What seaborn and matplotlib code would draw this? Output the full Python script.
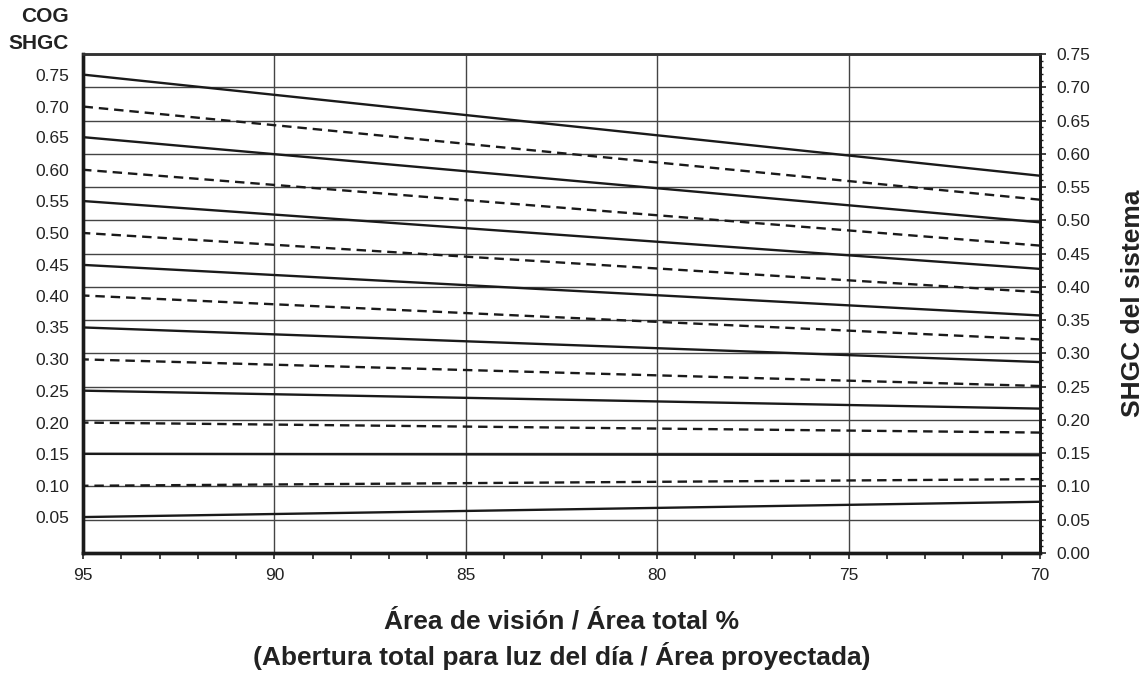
import numpy as np
import pandas as pd
import matplotlib.pyplot as plt
from matplotlib.ticker import MultipleLocator
import seaborn as sns

# Values: system SHGC at 95 % and 70 % vision area
cog_shgc = [0.05, 0.10, 0.15, 0.20, 0.25, 0.30, 0.35, 0.40,
            0.45, 0.50, 0.55, 0.60, 0.65, 0.70, 0.75]
sys_at_95 = [0.054, 0.101, 0.149, 0.196, 0.244, 0.291, 0.339, 0.387,
             0.433, 0.481, 0.529, 0.576, 0.625, 0.671, 0.719]
sys_at_70 = [0.077, 0.111, 0.147, 0.181, 0.217, 0.251, 0.287, 0.321,
             0.357, 0.392, 0.427, 0.462, 0.497, 0.531, 0.567]
vision_pct = [95, 70]

rows = []
for i, c in enumerate(cog_shgc):
    kind = "solid" if i % 2 == 0 else "dashed"
    rows.append({"area": vision_pct[0], "sys": sys_at_95[i], "cog": c, "kind": kind})
    rows.append({"area": vision_pct[1], "sys": sys_at_70[i], "cog": c, "kind": kind})
df = pd.DataFrame(rows)

sns.set_style("ticks")
plt.rcParams["font.family"] = ["Liberation Sans", "DejaVu Sans"]

fig = plt.figure(figsize=(11.46, 6.73), dpi=100)
ax = fig.add_axes([0.0724, 0.1783, 0.8351, 0.7415])
ax2 = ax.twinx()

sns.lineplot(
    data=df, x="area", y="sys", hue="cog", style="kind", units="cog",
    estimator=None, palette={c: "#1a1a1a" for c in cog_shgc},
    dashes={"solid": "", "dashed": (4, 2.5)}, linewidth=1.7,
    legend=False, ax=ax,
)

for a in (ax, ax2):
    a.set_ylim(0, 0.75)
ax.set_xlim(95, 70)

# x axis
ax.xaxis.set_major_locator(MultipleLocator(5))
ax.xaxis.set_minor_locator(MultipleLocator(1))
ax.tick_params(axis="x", which="both", direction="out", length=4, width=1.2,
               colors="#222222", labelsize=12.5, pad=7)
ax.xaxis.grid(True, color="#444444", linewidth=1.0)

# left axis: COG labels at the line starts
ax.set_yticks(sys_at_95)
ax.set_yticklabels([f"{c:.2f}" for c in cog_shgc])
ax.tick_params(axis="y", length=0, labelsize=12.5, pad=10, labelcolor="#222222")

# right axis: system SHGC
ax2.yaxis.set_major_locator(MultipleLocator(0.05))
ax2.yaxis.set_minor_locator(MultipleLocator(0.01))
ax2.yaxis.set_major_formatter(plt.FormatStrFormatter("%.2f"))
ax2.tick_params(axis="y", which="major", length=4, width=1.2, labelsize=12.5,
                pad=8, colors="#222222")
ax2.tick_params(axis="y", which="minor", length=2.5, width=1.0, colors="#222222")
ax2.yaxis.grid(True, color="#444444", linewidth=1.0)

# draw lines above the right-axis grid
ax.set_zorder(ax2.get_zorder() + 1)
ax.patch.set_visible(False)

for a in (ax, ax2):
    a.spines["left"].set_linewidth(2.4)
    a.spines["bottom"].set_linewidth(2.4)
    a.spines["right"].set_linewidth(2.0)
    a.spines["top"].set_linewidth(1.8)
    a.spines["top"].set_color("#333333")
    for s in ("left", "bottom", "right"):
        a.spines[s].set_color("#1a1a1a")

ax.set_ylabel("")
ax.set_xlabel("Área de visión / Área total %\n(Abertura total para luz del día / Área proyectada)",
              fontsize=19, fontweight="bold", color="#222222", labelpad=19,
              linespacing=1.35)
ax2.set_ylabel("SHGC del sistema", fontsize=19, fontweight="bold",
               color="#222222", labelpad=22)

fig.text(0.0602, 0.99, "COG\nSHGC", ha="right", va="top", fontsize=15,
         fontweight="bold", color="#222222", linespacing=1.55)

fig.savefig("out.png", dpi=100)
